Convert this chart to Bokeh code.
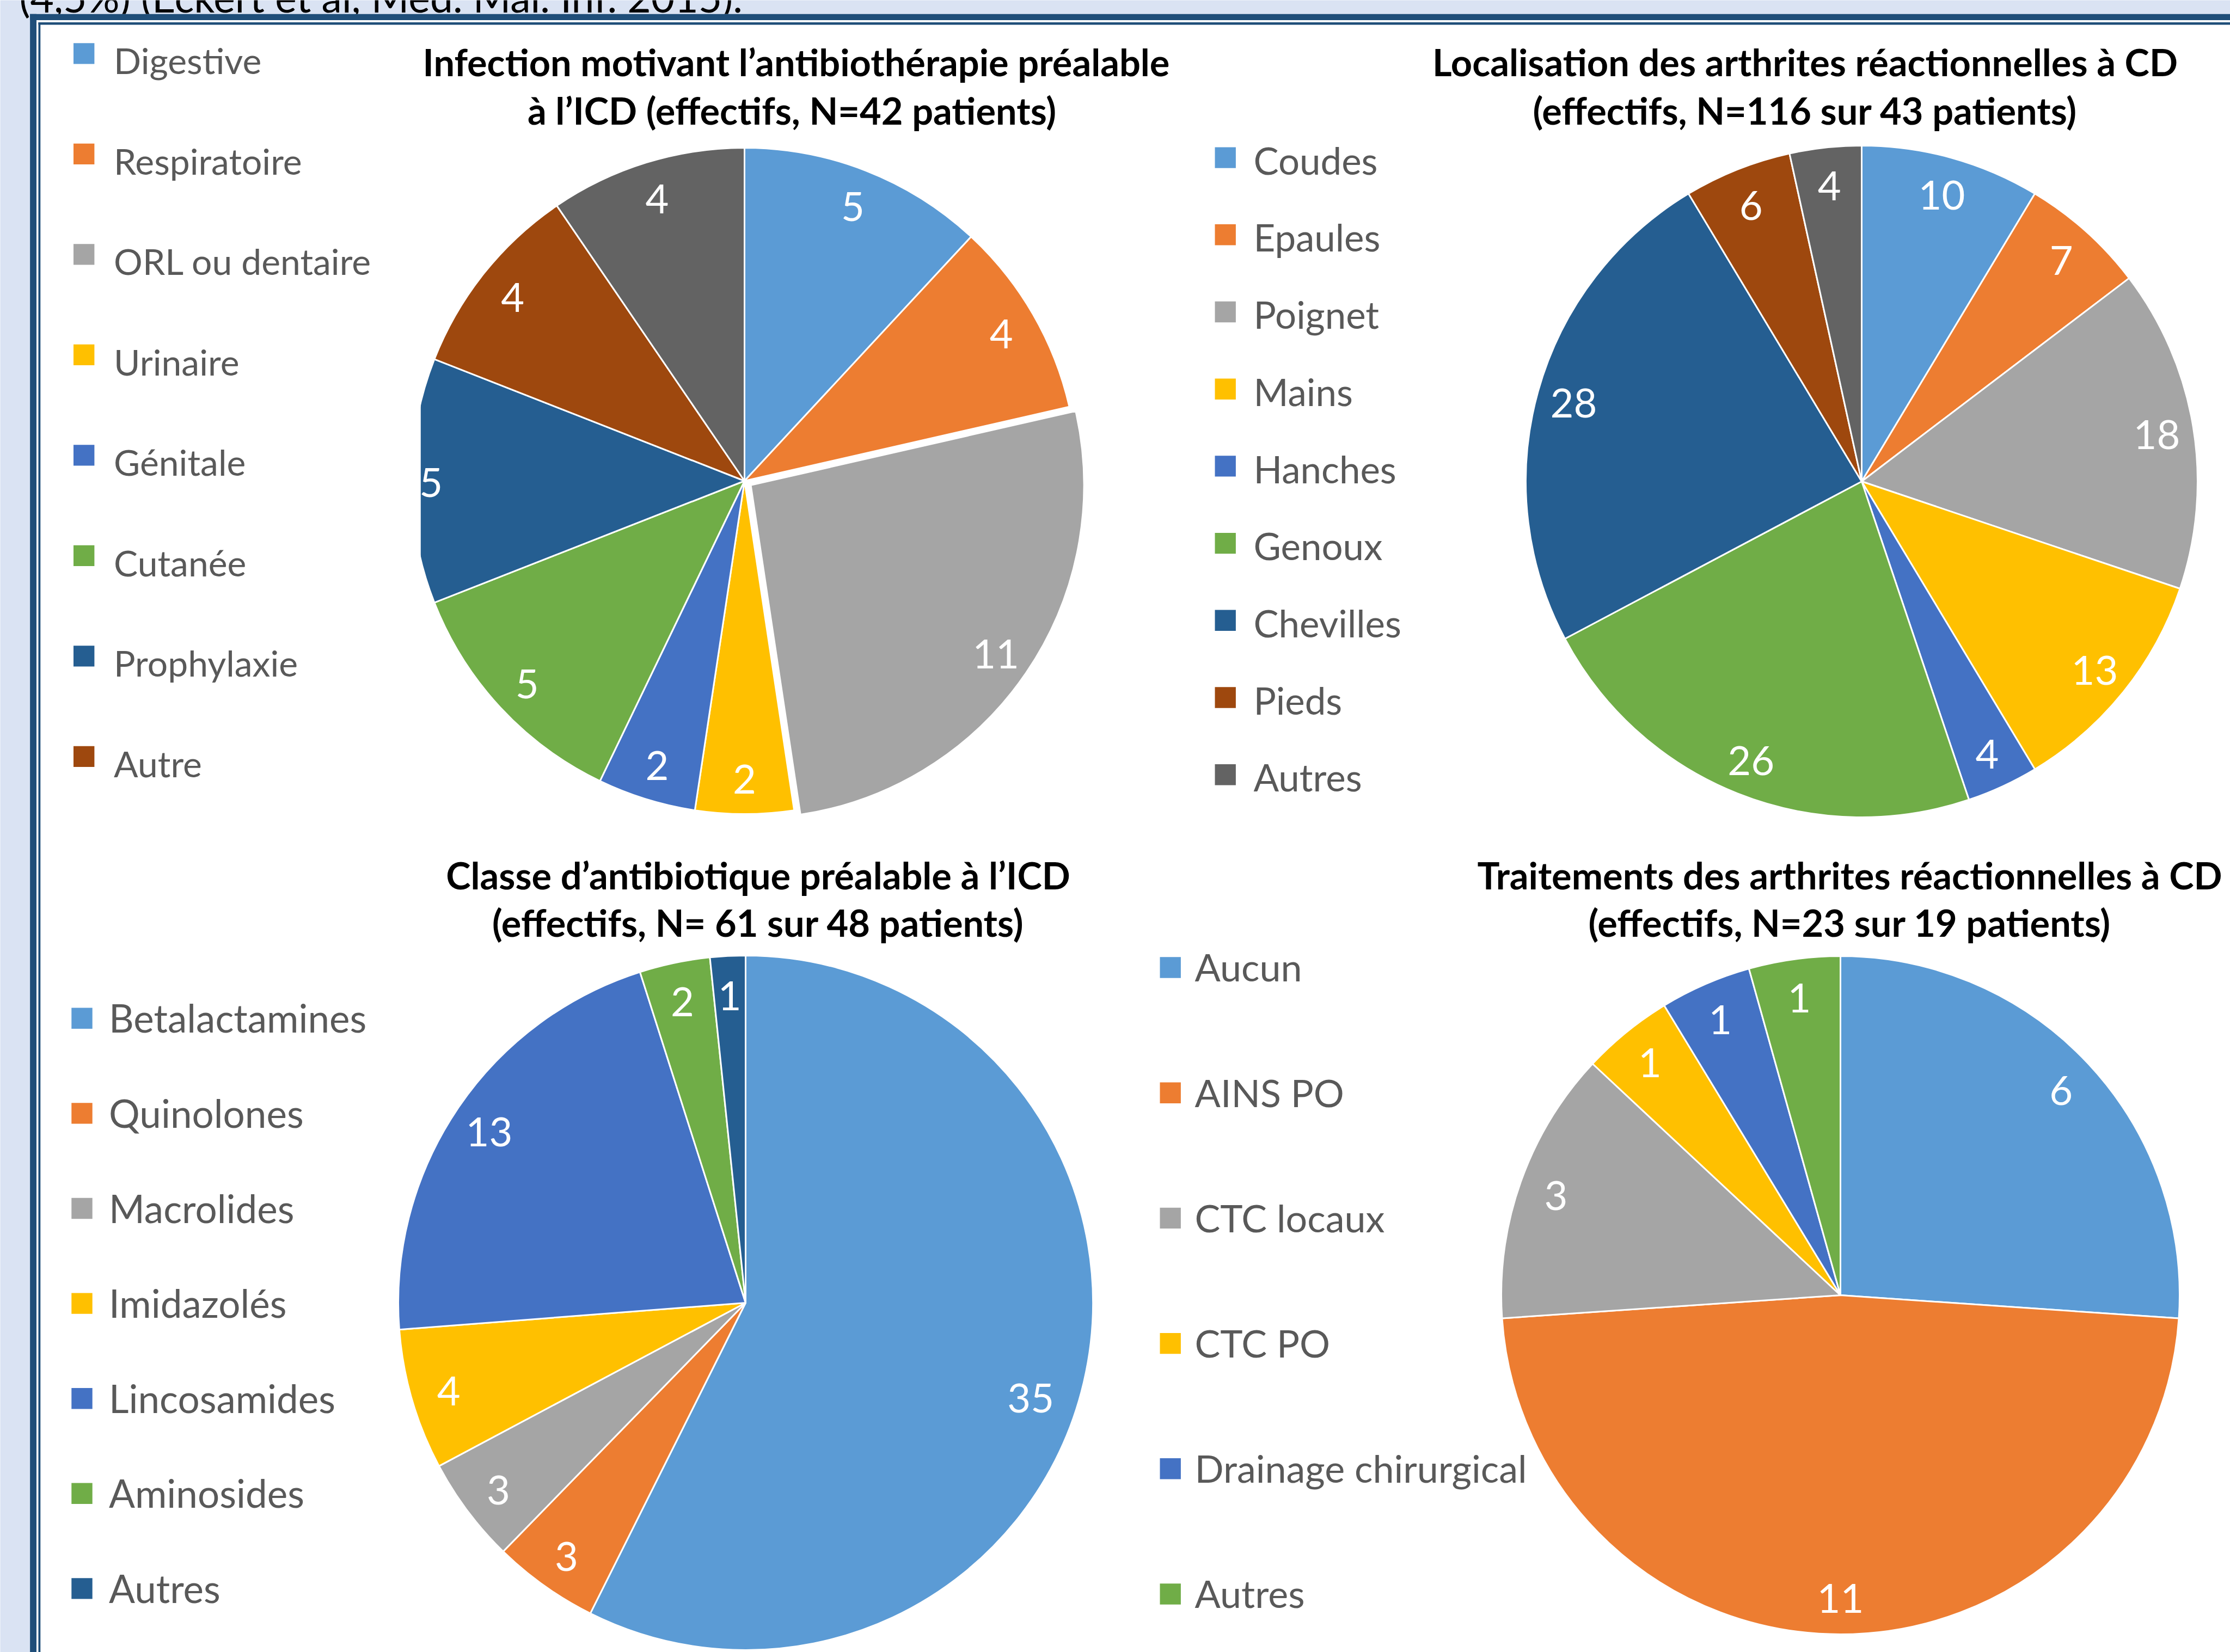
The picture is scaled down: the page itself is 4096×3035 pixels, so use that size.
import numpy as np
from bokeh.plotting import figure
from bokeh.models import ColumnDataSource, Range1d
from bokeh.core.properties import value
from bokeh.embed import file_html
from bokeh.resources import INLINE

# ------------------------------------------------------------------ data
infection_categories = ["Digestive", "Respiratoire", "ORL ou dentaire", "Urinaire",
                        "Génitale", "Cutanée", "Prophylaxie", "Autre"]
infection_values = [5, 4, 11, 2, 2, 5, 5, 4, 4]        # 9th slice: no legend entry

localisation_categories = ["Coudes", "Epaules", "Poignet", "Mains", "Hanches",
                           "Genoux", "Chevilles", "Pieds", "Autres"]
localisation_values = [10, 7, 18, 13, 4, 26, 28, 6, 4]

classe_categories = ["Betalactamines", "Quinolones", "Macrolides", "Imidazolés",
                     "Lincosamides", "Aminosides", "Autres"]
classe_values = [35, 3, 3, 4, 13, 2, 1]

traitement_categories = ["Aucun", "AINS PO", "CTC locaux", "CTC PO",
                         "Drainage chirurgical", "Autres"]
traitement_values = [6, 11, 3, 1, 1, 1]

titles = [
    ["Infection motivant l\u2019antibiothérapie préalable", "à l\u2019ICD (effectifs, N=42 patients)"],
    ["Localisation des arthrites réactionnelles à CD", "(effectifs, N=116 sur 43 patients)"],
    ["Classe d\u2019antibiotique préalable à l\u2019ICD", "(effectifs, N= 61 sur 48 patients)"],
    ["Traitements des arthrites réactionnelles à CD", "(effectifs, N=23 sur 19 patients)"],
]
top_text = "(4,5%) (Eckert et al, Med. Mal. Inf. 2015)."

palette = ["#5B9BD5", "#ED7D31", "#A5A5A5", "#FFC000", "#4472C4",
           "#70AD47", "#255E91", "#9E480E", "#636363"]

# ------------------------------------------------------------------ layout
W, H = 4096, 3035
FONT = "Lato"
TITLE_FS, LAB_FS, TOP_FS = 68.5, 74, 75
CAP = 0.7165   # Lato cap height / em
SHIFT = 0.32   # renderer's extra baseline drop, in em (compensated)


def sy(y):  # screen (top-down) -> data (bottom-up)
    return H - y


def base(y, fs):  # wanted baseline (screen) -> data y to give to the text glyph
    return sy(y - SHIFT * fs)


p = figure(width=W, height=H, x_range=Range1d(0, W), y_range=Range1d(0, H),
           output_backend="svg", toolbar_location=None, min_border=0,
           x_axis_location=None, y_axis_location=None,
           background_fill_color="#DAE3F3", border_fill_color="#DAE3F3",
           outline_line_color=None)
p.grid.visible = False

# header text (partly cut by the top of the page)
p.text(x=[35], y=[base(17.4, TOP_FS)], text=[top_text], text_font=value(FONT),
       text_font_size=f"{TOP_FS}px", text_color="#000000",
       text_align="left", text_baseline="alphabetic")

# page + double frame
FR = "#1F4E79"
p.quad(left=[54.6], right=[W], top=[sy(25.3)], bottom=[0], fill_color="white", line_color=None)
p.quad(left=[54.6, 54.6], right=[66.5, W], top=[sy(25.3), sy(25.3)], bottom=[0, sy(36.6)],
       fill_color=FR, line_color=None)
p.quad(left=[70.0, 70.0], right=[73.8, W], top=[sy(40.5), sy(40.5)], bottom=[0, sy(45.0)],
       fill_color=FR, line_color=None)

pies = [
    dict(values=infection_values, cats=infection_categories, cx=1367, cy=883, r=612,
         explode=[0, 0, 14, 0, 0, 0, 0, 0, 0], nudge={6: (-31, 0)},
         leg=dict(mx=134.5, tx=208.6, y0=97.9, step=184.5, fs=66, dy=10),
         title=dict(cx=[1462, 1454], base=[134.5, 224.2])),
    dict(values=localisation_values, cats=localisation_categories, cx=3419, cy=884, r=617,
         explode=None, nudge={},
         leg=dict(mx=2231, tx=2302, y0=289.1, step=141.7, fs=69, dy=2),
         title=dict(cx=[3315, 3315], base=[134.5, 224.2])),
    dict(values=classe_values, cats=classe_categories, cx=1369, cy=2393, r=638,
         explode=None, nudge={0: (-29, 42)},
         leg=dict(mx=130.8, tx=199.5, y0=1870.3, step=174.6, fs=71, dy=-3.7),
         title=dict(cx=[1392, 1392], base=[1628.7, 1715.6])),
    dict(values=traitement_values, cats=traitement_categories, cx=3380, cy=2379, r=623,
         explode=None, nudge={},
         leg=dict(mx=2130, tx=2194, y0=1777, step=230.2, fs=70, dy=-3.7),
         title=dict(cx=[3397, 3397], base=[1628.7, 1715.6])),
]

SQ = 38.4
LAB_R = 0.89

label_sources = []
for i, pc in enumerate(pies):
    vals = np.array(pc["values"], dtype=float)
    n = len(vals)
    cols = palette[:n]
    frac_end = np.cumsum(vals) / vals.sum()
    frac_start = np.concatenate([[0.0], frac_end[:-1]])
    th1 = frac_start * 2 * np.pi          # clockwise from 12 o'clock
    th2 = frac_end * 2 * np.pi
    thm = (th1 + th2) / 2
    ex = np.array(pc["explode"], dtype=float) if pc["explode"] else np.zeros(n)
    cx, cy = pc["cx"], sy(pc["cy"])
    xs = cx + ex * np.sin(thm)
    ys = cy + ex * np.cos(thm)
    src = ColumnDataSource(dict(x=xs, y=ys, start=np.pi / 2 - th2, end=np.pi / 2 - th1,
                                color=cols))
    p.wedge(x="x", y="y", radius=pc["r"], start_angle="start", end_angle="end",
            direction="anticlock", fill_color="color", line_color="white", line_width=3,
            source=src)
    rl = LAB_R * pc["r"]
    ndx = np.array([pc["nudge"].get(k, (0, 0))[0] for k in range(n)], dtype=float)
    ndy = np.array([pc["nudge"].get(k, (0, 0))[1] for k in range(n)], dtype=float)
    lsrc = ColumnDataSource(dict(
        x=xs + rl * np.sin(thm) + ndx,
        y=ys + rl * np.cos(thm) - ndy - CAP * LAB_FS / 2 + SHIFT * LAB_FS,
        t=[str(int(v)) for v in vals]))
    label_sources.append(lsrc)

    # legend (manual, to keep the original spacing)
    lg = pc["leg"]
    m = len(pc["cats"])
    yc = lg["y0"] + lg["step"] * np.arange(m)
    p.rect(x=[lg["mx"] + SQ / 2] * m, y=[sy(v) for v in yc], width=SQ, height=SQ,
           fill_color=cols[:m], line_color=None)
    p.text(x=[lg["tx"]] * m,
           y=[base(v + lg["dy"] + CAP * lg["fs"] / 2, lg["fs"]) for v in yc],
           text=pc["cats"], text_font=value(FONT), text_font_size=f"{lg['fs']}px",
           text_color="#595959", text_align="left", text_baseline="alphabetic")

    # title
    tt = pc["title"]
    p.text(x=tt["cx"], y=[base(b, TITLE_FS) for b in tt["base"]], text=titles[i],
           text_font=value(FONT), text_font_size=f"{TITLE_FS}px", text_font_style="bold",
           text_color="#000000", text_align="center", text_baseline="alphabetic")

# the first pie is cut on its left side by its plot area
p.quad(left=[720], right=[772.3], top=[sy(700)], bottom=[sy(1070)], fill_color="white",
       line_color=None)

for lsrc in label_sources:
    p.text(x="x", y="y", text="t", source=lsrc, text_font=value(FONT),
           text_font_size=f"{LAB_FS}px", text_color="white",
           text_align="center", text_baseline="alphabetic")

open("out.html", "w").write(file_html(p, INLINE))
